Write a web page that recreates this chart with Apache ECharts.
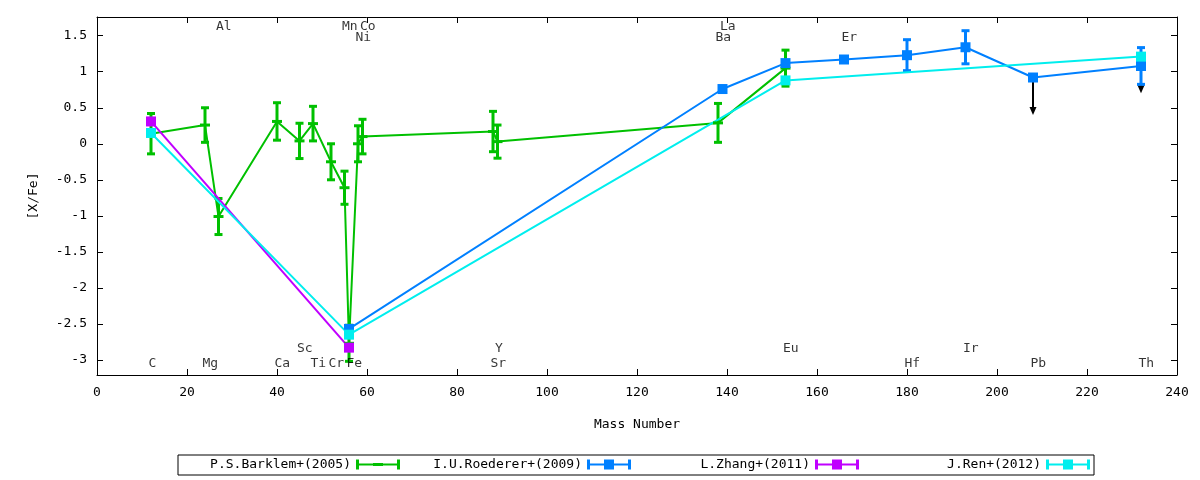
<!DOCTYPE html>
<html><head><meta charset="utf-8">
<script src="https://cdn.jsdelivr.net/npm/echarts@6/dist/echarts.min.js"></script>
<style>html,body{margin:0;padding:0;background:#fff}#c{width:1200px;height:480px}</style>
</head><body><div id="c"></div>
<script>
// ---- data ----
const xTicks = [0, 20, 40, 60, 80, 100, 120, 140, 160, 180, 200, 220, 240];
const yTicks = [-3, -2.5, -2, -1.5, -1, -0.5, 0, 0.5, 1, 1.5];
const yTickLabels = ['-3', '-2.5', '-2', '-1.5', '-1', '-0.5', '0', '0.5', '1', '1.5'];

const seriesNames = ['P.S.Barklem+(2005)', 'I.U.Roederer+(2009)', 'L.Zhang+(2011)', 'J.Ren+(2012)'];

const barklemMass = [12, 24, 27, 40, 45, 48, 52, 55, 56, 58, 59, 88, 89, 138, 153];
const barklemVal  = [0.14, 0.26, -1.01, 0.31, 0.04, 0.28, -0.25, -0.61, -2.77, 0.00, 0.10, 0.17, 0.03, 0.29, 1.05];
const barklemErr  = [0.28, 0.24, 0.25, 0.26, 0.245, 0.24, 0.25, 0.23, 0.25, 0.25, 0.24, 0.28, 0.23, 0.27, 0.25];

const roedererMass = [56, 139, 153, 166, 180, 193, 208, 232];
const roedererVal  = [-2.57, 0.76, 1.12, 1.17, 1.23, 1.34, 0.92, 1.08];
const roedererErr  = [null, null, null, 0.04, 0.215, 0.23, null, 0.255];

const limitMass = [208, 232];
const limitFrom = [0.92, 1.08];
const limitTo   = [0.40, 0.70];

const zhangMass = [12, 56];
const zhangVal  = [0.31, -2.83];

const renMass = [12, 56, 153, 232];
const renVal  = [0.15, -2.65, 0.88, 1.21];

const elemNames  = ['C', 'Mg', 'Al', 'Ca', 'Sc', 'Ti', 'Cr', 'Mn', 'Fe', 'Ni', 'Co', 'Sr', 'Y', 'Ba', 'La', 'Eu', 'Er', 'Hf', 'Ir', 'Pb', 'Th'];
const elemMass   = [12, 24, 27, 40, 45, 48, 52, 55, 56, 58, 59, 88, 89, 138, 139, 153, 166, 180, 193, 208, 232];
const elemLabelY = [-3.05, -3.05, 1.62, -3.05, -2.85, -3.05, -3.05, 1.62, -3.05, 1.48, 1.62, -3.05, -2.85, 1.48, 1.62, -2.85, 1.48, -3.05, -2.85, -3.05, -3.05];

// ---- style ----
const FONT = '"DejaVu Sans Mono", monospace';
const COLORS = ['#00c000', '#0080ff', '#c000ff', '#00eeee'];
const textStyle = { fontFamily: FONT, fontSize: 13, color: '#000' };

const zip2 = (a, b) => a.map((v, i) => [v, b[i]]);
const zip3 = (a, b, c) => a.map((v, i) => [v, b[i], c[i]]).filter(d => d[2] != null);

function errRender(color, capW) {
  return function (params, api) {
    const x = api.value(0), y = api.value(1), e = api.value(2);
    const t = api.coord([x, y + e]);
    const b = api.coord([x, y - e]);
    const hw = capW / 2;
    const st = { stroke: color, lineWidth: 3 };
    return {
      type: 'group', children: [
        { type: 'line', shape: { x1: t[0], y1: t[1], x2: b[0], y2: b[1] }, style: st },
        { type: 'line', shape: { x1: t[0] - hw, y1: t[1], x2: t[0] + hw, y2: t[1] }, style: st },
        { type: 'line', shape: { x1: b[0] - hw, y1: b[1], x2: b[0] + hw, y2: b[1] }, style: st }
      ]
    };
  };
}

function arrowRender(params, api) {
  const x = api.value(0), y0 = api.value(1), y1 = api.value(2);
  const p0 = api.coord([x, y0]);
  const p1 = api.coord([x, y1]);
  return {
    type: 'group', children: [
      { type: 'line', shape: { x1: p0[0], y1: p0[1], x2: p1[0], y2: p1[1] - 6 }, style: { stroke: '#000', lineWidth: 2 } },
      { type: 'polygon', shape: { points: [[p1[0] - 3.5, p1[1] - 8], [p1[0] + 3.5, p1[1] - 8], [p1[0], p1[1]]] }, style: { fill: '#000' } }
    ]
  };
}

const capPath = 'M0,0h3v10h-3zM0,4h44v2h-44zM41,0h3v10h-3z';
const iconGreen = 'path://' + capPath + 'M17,3.5h10v3h-10z';
const iconSquare = 'path://' + capPath + 'M17,0h10v10h-10z';
const legendRights = [800, 569, 341, 110];

const legends = seriesNames.map((n, i) => ({
  data: [{ name: n, icon: i === 0 ? iconGreen : iconSquare }],
  right: legendRights[i], top: 458, align: 'right', orient: 'horizontal',
  itemWidth: 44, itemHeight: 10, padding: 0, selectedMode: false,
  textStyle: textStyle, itemStyle: { borderWidth: 0 }
}));

const lineSeries = (name, mass, val, color, symSize) => ({
  name: name, type: 'line', data: zip2(mass, val),
  color: color, symbol: 'rect', symbolSize: symSize, showAllSymbol: true,
  lineStyle: { color: color, width: 2 }, itemStyle: { color: color },
  silent: true, animation: false
});

const option = {
  animation: false,
  grid: { left: 97, right: 23, top: 17, bottom: 105 },
  legend: legends,
  graphic: [{
    type: 'rect', shape: { x: 178, y: 455, width: 916, height: 20 },
    style: { fill: 'none', stroke: '#000', lineWidth: 1 }, z: 10
  }],
  xAxis: [{
    type: 'value', min: xTicks[0], max: xTicks[xTicks.length - 1], interval: 20, position: 'bottom',
    name: 'Mass Number', nameLocation: 'middle', nameGap: 43, nameTextStyle: textStyle,
    axisLine: { show: true, onZero: false, lineStyle: { color: '#000', width: 1 } },
    axisTick: { show: true, inside: true, length: 6, lineStyle: { color: '#000' } },
    axisLabel: { ...textStyle, margin: 11 },
    splitLine: { show: false }
  }, {
    type: 'value', min: xTicks[0], max: xTicks[xTicks.length - 1], interval: 20, position: 'top',
    axisLine: { show: true, onZero: false, lineStyle: { color: '#000', width: 1 } },
    axisTick: { show: true, inside: true, length: 6, lineStyle: { color: '#000' } },
    axisLabel: { show: false }, splitLine: { show: false }
  }],
  yAxis: [{
    type: 'value', min: -3.21, max: 1.76, position: 'left',
    name: '[X/Fe]', nameLocation: 'middle', nameGap: 57, nameTextStyle: textStyle,
    axisLine: { show: true, onZero: false, lineStyle: { color: '#000', width: 1 } },
    axisTick: { show: true, inside: true, length: 6, customValues: yTicks, lineStyle: { color: '#000' } },
    axisLabel: { ...textStyle, margin: 10, customValues: yTicks,
      formatter: v => { const i = yTicks.findIndex(t => Math.abs(t - v) < 1e-6); return i >= 0 ? yTickLabels[i] : ''; } },
    splitLine: { show: false }
  }, {
    type: 'value', min: -3.21, max: 1.76, position: 'right',
    axisLine: { show: true, onZero: false, lineStyle: { color: '#000', width: 1 } },
    axisTick: { show: true, inside: true, length: 6, customValues: yTicks, lineStyle: { color: '#000' } },
    axisLabel: { show: false }, splitLine: { show: false }
  }],
  series: [
    { name: 'limits', type: 'custom', renderItem: arrowRender, data: limitMass.map((m, i) => [m, limitFrom[i], limitTo[i]]), silent: true, animation: false },
    { name: 'barklem-err', type: 'custom', renderItem: errRender(COLORS[0], 8), data: zip3(barklemMass, barklemVal, barklemErr), silent: true, animation: false },
    lineSeries(seriesNames[0], barklemMass, barklemVal, COLORS[0], [10, 3]),
    { name: 'roederer-err', type: 'custom', renderItem: errRender(COLORS[1], 8), data: zip3(roedererMass, roedererVal, roedererErr), silent: true, animation: false },
    lineSeries(seriesNames[1], roedererMass, roedererVal, COLORS[1], 10),
    lineSeries(seriesNames[2], zhangMass, zhangVal, COLORS[2], 10),
    lineSeries(seriesNames[3], renMass, renVal, COLORS[3], 10),
    {
      name: 'elements', type: 'scatter', data: zip2(elemMass, elemLabelY).map((d, i) => ({ value: d, name: elemNames[i] })),
      symbolSize: 1, itemStyle: { color: 'rgba(0,0,0,0)' }, silent: true, animation: false,
      label: { show: true, position: 'right', distance: 0, offset: [-3, 0], formatter: p => p.name, ...textStyle }
    }
  ]
};

const chart = echarts.init(document.getElementById('c'), null, { renderer: 'canvas' });
chart.setOption(option);
</script>
</body></html>
